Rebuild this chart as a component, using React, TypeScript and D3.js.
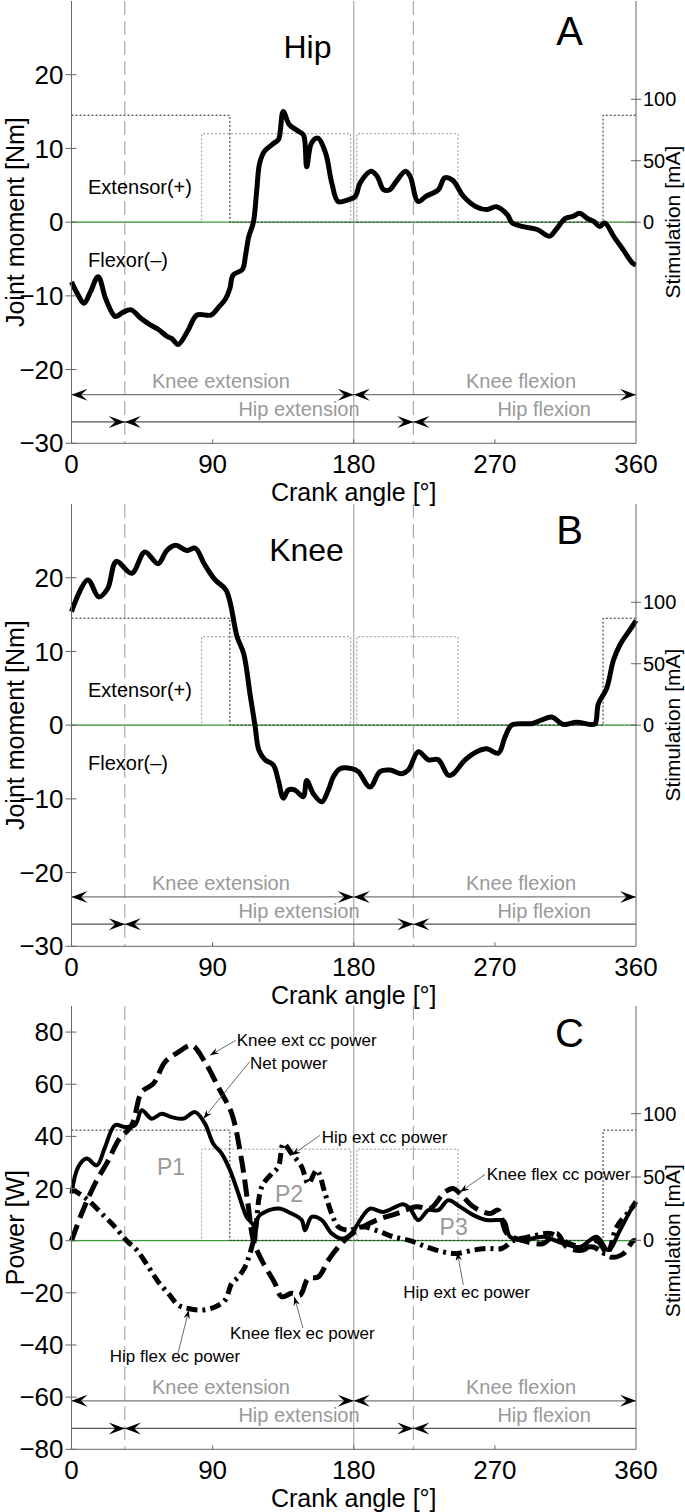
import React from 'react';
import * as d3 from 'd3';

// ---------------- data ----------------
const hipMomentAngle = [0,4,8,12,17,22,28,33,38,44,50,55,61,64,68,74,80,89,94,98,101,103,109,111,113,116,118,120,123,129,132,135,139,145,148,150,153,157,162,166,170,176,181,184,191,195,199,203,207,213,216,221,226,234,238,243,250,258,265,271,278,281,288,297,305,309,315,320,324,329,333,337,340,346,352,358,360];
const hipMomentNm = [-8.1,-9.8,-11,-9.5,-7.4,-10.5,-12.8,-12.2,-11.9,-13.0,-13.9,-14.5,-15.5,-15.8,-16.6,-14.8,-12.6,-12.6,-11.5,-10.5,-9,-7.2,-6.4,-4.5,-2.0,0,4,8,9.6,10.7,11.2,15,13.2,12.3,11.8,7.5,10.7,11.4,9.4,5.3,2.8,3.0,3.5,5.3,6.9,6.2,4.4,4.4,5.5,6.9,6.2,2.8,3.5,4.4,6.0,5.7,3.5,2.1,1.7,2.1,1.0,-0.1,-0.6,-1.0,-1.9,-1.0,0.5,0.8,1.2,0.5,0.1,-0.6,-0.1,-2.0,-3.8,-5.6,-5.8];

const kneeMomentAngle = [0,10.4,17.4,23,28.6,38.4,46.8,55.2,60.8,66.4,73.4,79,84.6,91.6,98.6,105.6,109.8,114,117,119.5,123.4,128.7,131.9,135.1,138.3,142.5,147.8,150,154.2,159.6,163.8,167,171.2,178.7,182.9,190.4,196.7,203.1,210.6,214.8,221.2,227.6,233.9,240.3,243.5,251,258.4,264.8,272.2,276.5,280.7,288.1,293.5,299.9,306.2,313.7,322.2,330.7,333.9,336,341.3,345.6,349.8,357.3,360];
const kneeMomentNm = [15.4,19.7,17.4,18.5,22.2,20.6,23.5,21.9,23.7,24.4,23.7,24.0,21.9,19.7,18.3,12.0,9.7,4,0,-3.4,-4.7,-5.4,-7.5,-9.9,-8.8,-8.8,-9.7,-7.5,-9.3,-10.4,-8.8,-7.0,-5.9,-5.9,-6.3,-8.4,-6.3,-6.1,-6.6,-6.1,-3.6,-4.7,-4.7,-6.8,-6.6,-4.7,-3.6,-3.2,-3.8,-1.6,0,0.2,0.2,0.7,1.1,0.1,0.4,0.1,0.2,2.9,5.0,8.8,10.9,13.3,14.2];

const netPowerAngle = [0,4.3,9.7,16.1,21.4,27.7,34.1,40.5,44.8,51.1,57.5,63.9,71.3,78.8,85.1,90.4,95.8,101.1,106.4,111.7,116,117,119.1,123.4,131.9,140.4,146.8,148.9,153.2,159.6,165.9,172.3,178.7,184,190.4,198.9,211.6,215.9,221.2,227.6,233.9,240.3,247.8,256.3,264.8,271.2,276,279.7,288.1,300.8,313.7,324.3,334.9,342.3,349.8,357.3,360];
const netPowerW = [18.1,28.3,31.5,28.9,35.9,44.3,43.6,44.3,50.0,46.8,48.7,47.4,46.8,49.3,44.9,37.2,33.4,27.0,18.1,9.1,5.9,0.2,9.1,11.0,12.3,10.4,7.9,4.0,9.1,7.9,2.8,0.8,2.8,7.9,12.3,11.0,14.0,12.3,7.9,11.7,11.7,15.5,13.0,9.8,7.9,7.9,7.5,1.5,0.2,1.5,-1.1,-2.4,1.5,-3.6,4.0,12.3,14];

const kneePowerAngle = [0,6.5,15,23.5,29.9,38.4,44.8,52.2,59.6,68.1,76.7,85.1,93.6,102.2,108.5,112.8,116,121.3,129.8,134,140.4,145.7,151,157.4,163.8,170.2,176.5,184,194.6,207.4,220.1,228.6,238.2,243.5,247.8,256.3,266.9,272.2,277.6,288.1,300.8,309.4,315.8,326.4,334.9,343.4,351.9,358.3,360];
const kneePowerW = [0,10.4,21.9,30.8,38.5,44.3,57.0,60.2,68.5,72.3,74.9,68.5,58.9,48.7,30.8,13.0,0,-7.5,-16.4,-21.5,-20.2,-20.9,-14.5,-13.9,-7.5,-2.4,1.5,4.7,7.9,10.4,13.0,12.3,18.7,20.0,18.1,13.0,10.4,11.7,2.8,0,-1.1,2.8,-2.4,-3.6,0,-6.2,-5,0,0];

const hipPowerAngle = [0,5,10.7,21.4,27.7,35.2,41.6,49,55.4,61.7,68.1,74.5,83,91.5,97.9,102.2,106.4,110.7,113.8,117,121.3,127.7,131.9,135.1,140.4,146.8,151,156.4,161.7,165.9,170.2,176.5,186,196.7,205.2,215.9,226.5,237.1,245.7,256.3,264.8,274.4,281.7,292.4,305.2,313.7,324.3,332.8,341.3,347.7,356.2,360];
const hipPowerW = [20,18,15.5,9.1,5.3,0,-3.6,-10.0,-15.8,-20.2,-24.7,-26.0,-26.6,-25.4,-22.8,-16.4,-13.9,-10.0,-4.9,2.8,20.6,25.7,28.3,37.2,33.4,28.3,21.9,27.0,18.1,10.4,5.3,4.0,5.3,3.4,1.5,0,-2.4,-4.3,-4.9,-3.6,-3.0,-3.0,0,1.5,2.8,0,-2.4,-2.4,-4.9,5.3,11.7,15];

const stimBlackAngle = [0, 101, 101, 339, 339, 360];
const stimBlackMA = [87, 87, 0, 0, 87, 87];
const stimGrayAngle = [0, 83, 83, 178, 178, 182, 182, 246.5, 246.5, 360];
const stimGrayMA = [0, 0, 72, 72, 0, 0, 72, 72, 0, 0];

const crankTicks = [0, 90, 180, 270, 360];
const momentTicks = [-30, -20, -10, 0, 10, 20];
const powerTicks = [-80, -60, -40, -20, 0, 20, 40, 60, 80];
const stimTicks = [0, 50, 100];

const kneeTransition = 180;
const hipTransitions = [34, 218];
const kneePhaseLabels = ['Knee extension', 'Knee flexion'];
const kneePhaseLabelAngles = [95.3, 286.7];
const hipPhaseLabels = ['Hip extension', 'Hip flexion'];
const hipPhaseLabelAngles = [145.1, 301.4];

const powerNotes = [
  { text: 'Knee ext cc power', tx: 105.4, ty: 74.5, fx: 104.7, fy: 76.8, px: 88.3, py: 71.1 },
  { text: 'Net power', tx: 113.8, ty: 66, fx: 113.4, fy: 68.5, px: 84.1, py: 46.8 },
  { text: 'Hip ext cc power', tx: 159.6, ty: 37.5, fx: 158.5, fy: 40.4, px: 140.4, py: 32.8 },
  { text: 'Knee flex cc power', tx: 264.8, ty: 23.4, fx: 263.7, fy: 25.4, px: 247.8, py: 18.7 },
  { text: 'Hip ext ec power', tx: 211.6, ty: -22.1, fx: 249.9, fy: -17, px: 246, py: -4.3 },
  { text: 'Knee flex ec power', tx: 101.1, ty: -37.7, fx: 147.6, fy: -33.5, px: 142.1, py: -21.5 },
  { text: 'Hip flex ec power', tx: 24.4, ty: -46.4, fx: 67.9, fy: -43.2, px: 74.8, py: -26.6 },
];
const powerPhases = [
  { text: 'P1', a: 63.5, w: 25.1 },
  { text: 'P2', a: 138.7, w: 14.9 },
  { text: 'P3', a: 243.7, w: 2.1 },
];

// ---------------- layout ----------------
const FONT = '"Liberation Sans", Arial, Helvetica, sans-serif';
const X0 = 71.5;
const X1 = 636;

type Series = { angle: number[]; val: number[]; width: number; dash?: string };

type PanelProps = {
  top: number;
  bottom: number;
  yDomain: [number, number];
  rDomain: [number, number];
  yTicks: number[];
  yLabel: string;
  title?: string;
  titleX?: number;
  letter: string;
  letterY: number;
  series: Series[];
  kneeRow: number;
  hipRow: number;
  moment: boolean;
  children?: (x: d3.ScaleLinear<number, number>, y: d3.ScaleLinear<number, number>) => React.ReactNode;
};

const zip = (a: number[], b: number[]) => a.map((v, i) => [v, b[i]] as [number, number]);

function head(tip: number, y: number, dir: number, L = 16, H = 6) {
  const b = tip - dir * L;
  const n = tip - dir * L * 0.6;
  return `M${tip},${y}L${b},${y - H}L${n},${y}L${b},${y + H}Z`;
}

function headAlong(tx: number, ty: number, fx: number, fy: number, L = 9, H = 3.2) {
  const a = Math.atan2(ty - fy, tx - fx);
  const ux = Math.cos(a), uy = Math.sin(a);
  const px = -uy, py = ux;
  const bx = tx - ux * L, by = ty - uy * L;
  const nx = tx - ux * L * 0.65, ny = ty - uy * L * 0.65;
  return `M${tx},${ty}L${bx + px * H},${by + py * H}L${nx},${ny}L${bx - px * H},${by - py * H}Z`;
}

function Panel(p: PanelProps) {
  const x = d3.scaleLinear().domain([0, 360]).range([X0, X1]);
  const y = d3.scaleLinear().domain(p.yDomain).range([p.bottom, p.top]);
  const r = d3.scaleLinear().domain(p.rDomain).range([p.bottom, p.top]);
  const line = d3
    .line<[number, number]>()
    .x((d) => x(d[0]))
    .y((d) => y(d[1]))
    .curve(d3.curveCatmullRom.alpha(0.5));
  const stimLine = d3
    .line<[number, number]>()
    .x((d) => x(d[0]))
    .y((d) => r(d[1]));
  const ky = y(p.kneeRow);
  const hy = y(p.hipRow);
  const midY = (p.top + p.bottom) / 2;
  const zeroY = y(0);
  return (
    <g>
      {/* stimulation */}
      <path d={stimLine(zip(stimGrayAngle, stimGrayMA)) || ''} fill="none" stroke="#999" strokeWidth={1} strokeDasharray="2,2" />
      <line x1={X0} x2={X1} y1={zeroY} y2={zeroY} stroke="#3a9a3a" strokeWidth={1.2} />
      <path d={stimLine(zip(stimBlackAngle, stimBlackMA)) || ''} fill="none" stroke="#222" strokeWidth={1} strokeDasharray="2,2" />
      {/* phase lines */}
      <line x1={x(kneeTransition)} x2={x(kneeTransition)} y1={p.top} y2={p.bottom} stroke="#999" strokeWidth={1} />
      {hipTransitions.map((a) => (
        <line key={a} x1={x(a)} x2={x(a)} y1={p.top} y2={p.bottom} stroke="#999" strokeWidth={1} strokeDasharray="14,6" />
      ))}
      {/* phase arrow rows */}
      <line x1={X0} x2={X1} y1={ky} y2={ky} stroke="#777" strokeWidth={1.2} />
      <line x1={X0} x2={X1} y1={hy} y2={hy} stroke="#555" strokeWidth={1.2} />
      <path d={head(x(0), ky, -1)} fill="#000" />
      <path d={head(x(kneeTransition), ky, 1)} fill="#000" />
      <path d={head(x(kneeTransition), ky, -1)} fill="#000" />
      <path d={head(x(360), ky, 1)} fill="#000" />
      {hipTransitions.map((a) => (
        <g key={a}>
          <path d={head(x(a), hy, 1)} fill="#000" />
          <path d={head(x(a), hy, -1)} fill="#000" />
        </g>
      ))}
      {kneePhaseLabels.map((t, i) => (
        <text key={t} x={x(kneePhaseLabelAngles[i])} y={ky - 7} textAnchor="middle" fontSize={20} fill="#999" fontFamily={FONT}>{t}</text>
      ))}
      {hipPhaseLabels.map((t, i) => (
        <text key={t} x={x(hipPhaseLabelAngles[i])} y={hy - 6} textAnchor="middle" fontSize={20} fill="#999" fontFamily={FONT}>{t}</text>
      ))}
      {/* data */}
      {p.series.map((s, i) => (
        <path key={i} d={line(zip(s.angle, s.val)) || ''} fill="none" stroke="#000" strokeWidth={s.width} strokeDasharray={s.dash} strokeLinejoin="round" />
      ))}
      {p.children && p.children(x, y)}
      {/* axes */}
      <line x1={X0} x2={X0} y1={p.top} y2={p.bottom} stroke="#666" strokeWidth={1} />
      <line x1={X1} x2={X1} y1={p.top} y2={p.bottom} stroke="#666" strokeWidth={1} />
      <line x1={X0} x2={X1} y1={p.bottom} y2={p.bottom} stroke="#666" strokeWidth={1} />
      {p.yTicks.map((t) => (
        <g key={t}>
          <line x1={X0 - 6} x2={X0 + 5} y1={y(t)} y2={y(t)} stroke="#666" strokeWidth={1} />
          <text x={X0 - 8} y={y(t)} dy="0.35em" textAnchor="end" fontSize={26} fontFamily={FONT} fill="#000">
            {t < 0 ? `\u2212${-t}` : `${t}`}
          </text>
        </g>
      ))}
      {stimTicks.map((t) => (
        <g key={t}>
          <line x1={X1 - 5} x2={X1 + 5} y1={r(t)} y2={r(t)} stroke="#666" strokeWidth={1} />
          <text x={X1 + 7} y={r(t)} dy="0.35em" textAnchor="start" fontSize={20} fontFamily={FONT} fill="#000">{t}</text>
        </g>
      ))}
      {crankTicks.map((t) => (
        <g key={t}>
          {t > 0 && t < 360 && <line x1={x(t)} x2={x(t)} y1={p.bottom} y2={p.bottom - 4} stroke="#666" strokeWidth={1} />}
          <text x={x(t)} y={p.bottom + 29.5} textAnchor="middle" fontSize={26} fontFamily={FONT} fill="#000">{t}</text>
        </g>
      ))}
      <text x={(X0 + X1) / 2} y={p.bottom + 58} textAnchor="middle" fontSize={25} fontFamily={FONT} fill="#000">Crank angle [°]</text>
      <text transform={`translate(23.5,${midY}) rotate(-90)`} textAnchor="middle" fontSize={25} fontFamily={FONT} fill="#000">{p.yLabel}</text>
      <text transform={`translate(680,${zeroY}) rotate(-90)`} textAnchor="middle" fontSize={21} fontFamily={FONT} fill="#000">Stimulation [mA]</text>
      {p.title && (
        <text x={p.titleX} y={p.top + 57} textAnchor="middle" fontSize={32} fontFamily={FONT} fill="#000">{p.title}</text>
      )}
      <text x={569.5} y={p.letterY} textAnchor="middle" fontSize={40} fontFamily={FONT} fill="#000">{p.letter}</text>
      {p.moment && (
        <>
          <text x={88} y={zeroY - 28.5} fontSize={20} fontFamily={FONT} fill="#000">Extensor(+)</text>
          <text x={88} y={zeroY + 44.5} fontSize={20} fontFamily={FONT} fill="#000">Flexor(–)</text>
        </>
      )}
    </g>
  );
}

export default function App() {
  return (
    <svg width={685} height={1512} style={{ position: 'absolute', left: 0, top: 0, background: '#fff' }}>
      <rect x={0} y={0} width={685} height={1512} fill="#fff" />
      <Panel
        top={1}
        bottom={443.3}
        yDomain={[-30, 30]}
        rDomain={[-180, 180]}
        yTicks={momentTicks}
        yLabel="Joint moment [Nm]"
        title="Hip"
        titleX={307.5}
        letter="A"
        letterY={45}
        series={[{ angle: hipMomentAngle, val: hipMomentNm, width: 5 }]}
        kneeRow={-23.4}
        hipRow={-27.1}
        moment
      />
      <Panel
        top={504}
        bottom={946.3}
        yDomain={[-30, 30]}
        rDomain={[-180, 180]}
        yTicks={momentTicks}
        yLabel="Joint moment [Nm]"
        title="Knee"
        titleX={306.5}
        letter="B"
        letterY={543.5}
        series={[{ angle: kneeMomentAngle, val: kneeMomentNm, width: 5 }]}
        kneeRow={-23.3}
        hipRow={-27}
        moment
      />
      <Panel
        top={1006}
        bottom={1449.3}
        yDomain={[-80, 90]}
        rDomain={[-165, 185]}
        yTicks={powerTicks}
        yLabel="Power [W]"
        letter="C"
        letterY={1046.5}
        series={[
          { angle: hipPowerAngle, val: hipPowerW, width: 5, dash: '11,5,3,5' },
          { angle: kneePowerAngle, val: kneePowerW, width: 5, dash: '17,7' },
          { angle: netPowerAngle, val: netPowerW, width: 4 },
        ]}
        kneeRow={-61.4}
        hipRow={-72}
        moment={false}
      >
        {(x, y) => (
          <g>
            {powerPhases.map((ph) => (
              <text key={ph.text} x={x(ph.a)} y={y(ph.w)} textAnchor="middle" fontSize={23} fill="#999" fontFamily={FONT}>{ph.text}</text>
            ))}
            {powerNotes.map((n) => {
              const fx = x(n.fx), fy = y(n.fy), px = x(n.px), py = y(n.py);
              return (
                <g key={n.text}>
                  <line x1={fx} y1={fy} x2={px} y2={py} stroke="#444" strokeWidth={0.8} />
                  <path d={headAlong(px, py, fx, fy)} fill="#000" />
                  <text x={x(n.tx)} y={y(n.ty)} fontSize={17} fontFamily={FONT} fill="#000">{n.text}</text>
                </g>
              );
            })}
          </g>
        )}
      </Panel>
    </svg>
  );
}
